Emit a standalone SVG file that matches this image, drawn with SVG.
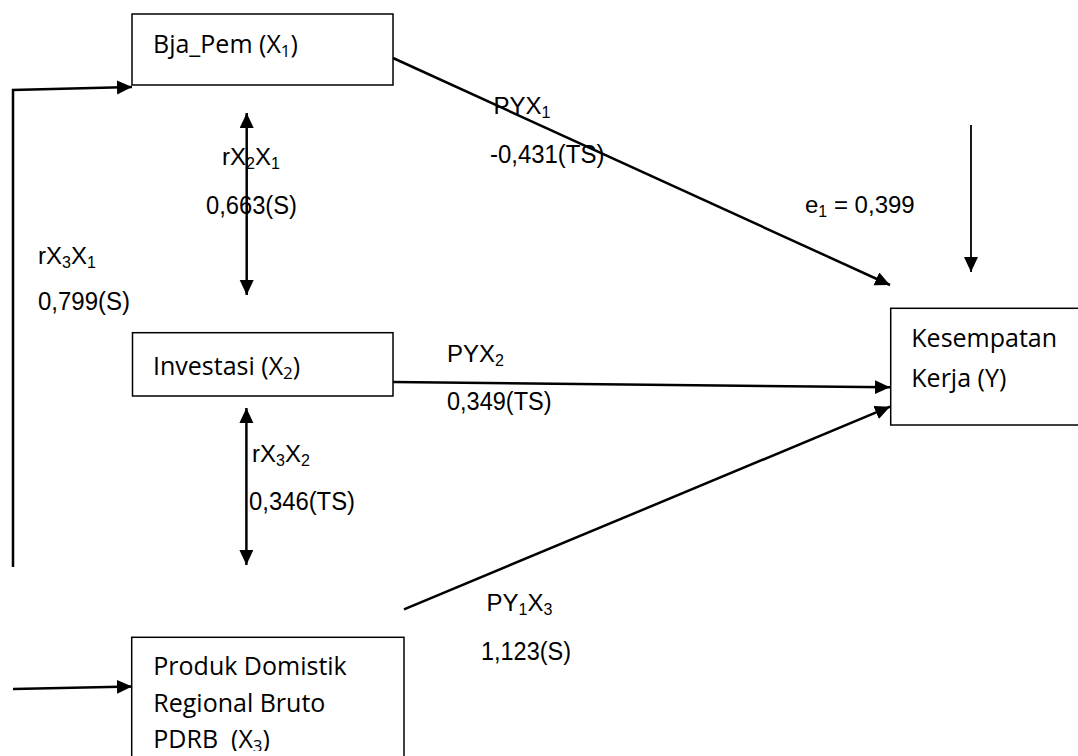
<svg xmlns="http://www.w3.org/2000/svg" width="1078" height="756" viewBox="0 0 1078 756">
<style>
.box{fill:#fff;stroke:#000;stroke-width:1.5}
.bt{font-family:"Open Sans","Noto Sans",sans-serif;font-size:25px;fill:#000}
.lb{font-family:"Liberation Sans",Arial,sans-serif;font-size:26px;fill:#000}
.ls{font-family:"Liberation Sans",Arial,sans-serif;font-size:24px;fill:#000}
.sb{font-size:16px}
.bs{font-size:17px}
.ln{fill:none;stroke:#000;stroke-width:2.5}
</style>
<defs>
<marker id="ah" markerUnits="userSpaceOnUse" markerWidth="16" markerHeight="15" refX="15" refY="7" orient="auto-start-reverse">
<path d="M0,0 L15,7 L0,14 z" fill="#000"/>
</marker>
<clipPath id="clipB"><rect x="0" y="0" width="1078" height="751"/></clipPath>
</defs>
<rect width="1078" height="756" fill="#fff"/>

<g id="connectors">
<polyline class="ln" points="13,567 13,90 132,87" marker-end="url(#ah)"/>
<line class="ln" x1="13" y1="689" x2="132" y2="686.5" marker-end="url(#ah)"/>
<line class="ln" x1="246.7" y1="113" x2="246.7" y2="295" marker-start="url(#ah)" marker-end="url(#ah)"/>
<line class="ln" x1="246.4" y1="408" x2="246.4" y2="565" marker-start="url(#ah)" marker-end="url(#ah)"/>
<line class="ln" x1="393" y1="58" x2="890" y2="285" marker-end="url(#ah)"/>
<line class="ln" x1="393" y1="382" x2="890" y2="387.3" marker-end="url(#ah)"/>
<line class="ln" x1="404" y1="609.3" x2="890" y2="406.7" marker-end="url(#ah)"/>
<line class="ln" style="stroke-width:1.8" x1="971" y1="125" x2="971" y2="272" marker-end="url(#ah)"/>
</g>

<g id="node-x1">
<rect class="box" x="132" y="14" width="261" height="71"/>
<text class="bt" x="153" y="53">Bja_Pem (X<tspan class="bs" dy="4">1</tspan><tspan dy="-4">)</tspan></text>
</g>

<g id="node-x2">
<rect class="box" x="132.5" y="332.7" width="260.5" height="63.3"/>
<text class="bt" x="153" y="375">Investasi (X<tspan class="bs" dy="4">2</tspan><tspan dy="-4">)</tspan></text>
</g>

<g id="node-x3">
<rect class="box" x="131.7" y="637.3" width="272.3" height="130"/>
<g clip-path="url(#clipB)">
<text class="bt" x="153.3" y="675">Produk Domistik</text>
<text class="bt" x="153.3" y="711.7">Regional Bruto</text>
<text class="bt" x="153.3" y="748.3" xml:space="preserve">PDRB  (X<tspan class="bs" dy="4">3</tspan><tspan dy="-4">)</tspan></text>
</g>
</g>

<g id="node-y">
<rect class="box" x="890.7" y="308.3" width="200" height="116.7"/>
<text class="bt" x="911.3" y="346.7">Kesempatan</text>
<text class="bt" x="911.3" y="386.7">Kerja (Y)</text>
</g>

<g id="labels">
<text class="ls" x="222" y="164.5">rX<tspan class="sb" dy="4">2</tspan><tspan dy="-4">X</tspan><tspan class="sb" dy="4">1</tspan></text>
<text class="lb" x="206" y="213.5" textLength="91" lengthAdjust="spacingAndGlyphs">0,663(S)</text>
<text class="ls" x="38" y="263.5">rX<tspan class="sb" dy="4">3</tspan><tspan dy="-4">X</tspan><tspan class="sb" dy="4">1</tspan></text>
<text class="lb" x="38" y="309.5" textLength="92" lengthAdjust="spacingAndGlyphs">0,799(S)</text>
<text class="ls" x="493.5" y="114">PYX<tspan class="sb" dy="4">1</tspan></text>
<text class="lb" x="490" y="163" textLength="114.4" lengthAdjust="spacingAndGlyphs">-0,431(TS)</text>
<text class="ls" x="805" y="213">e<tspan class="sb" dy="4">1</tspan><tspan dy="-4"> = 0,399</tspan></text>
<text class="ls" x="447" y="361.7">PYX<tspan class="sb" dy="4">2</tspan></text>
<text class="lb" x="447" y="410" textLength="104.6" lengthAdjust="spacingAndGlyphs">0,349(TS)</text>
<text class="ls" x="252" y="461.5">rX<tspan class="sb" dy="4">3</tspan><tspan dy="-4">X</tspan><tspan class="sb" dy="4">2</tspan></text>
<text class="lb" x="249" y="509.5" textLength="106" lengthAdjust="spacingAndGlyphs">0,346(TS)</text>
<text class="ls" x="486.6" y="610.5">PY<tspan class="sb" dy="4">1</tspan><tspan dy="-4">X</tspan><tspan class="sb" dy="4">3</tspan></text>
<text class="lb" x="481" y="659.5" textLength="90" lengthAdjust="spacingAndGlyphs">1,123(S)</text>
</g>
</svg>
